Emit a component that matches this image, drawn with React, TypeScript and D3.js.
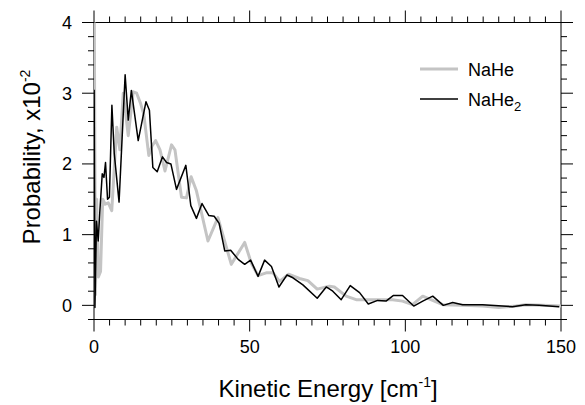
import React from "react";
import * as d3 from "d3";

// NaHe (gray) series
const naheX = [0.1, 0.45, 0.85, 1.4, 2.1, 2.8, 3.6, 4.6, 5.7, 7.3, 8.3, 9.4, 11.0, 12.6, 13.7, 15.0, 16.0, 17.6, 18.6, 19.8, 21.2, 22.8, 24.9, 26.0, 28.1, 29.7, 31.2, 32.9, 36.6, 39.8, 44.1, 48.4, 50.5, 52.7, 55.3, 57.5, 59.6, 62.5, 66.0, 68.7, 71.7, 75.6, 77.2, 81.0, 84.2, 88.5, 92.2, 95.9, 99.1, 102.3, 105.6, 108.2, 112.0, 118.4, 124.8, 130.0, 135.5, 138.7, 144.0, 150.0];
const naheY = [4.1, 0.15, 1.5, 0.4, 0.48, 1.5, 1.43, 1.45, 1.34, 2.52, 2.2, 3.0, 2.4, 3.02, 3.0, 2.85, 2.7, 2.12, 2.25, 2.33, 2.2, 1.9, 2.27, 2.2, 1.53, 1.52, 1.82, 1.62, 0.91, 1.24, 0.58, 0.89, 0.6, 0.42, 0.46, 0.46, 0.34, 0.44, 0.38, 0.35, 0.23, 0.27, 0.26, 0.13, 0.08, 0.08, 0.08, 0.08, 0.06, 0.01, 0.13, 0.08, 0.01, 0.0, -0.01, -0.03, -0.01, 0.01, 0.0, -0.01];

// NaHe2 (black) series
const nahe2X = [0.05, 0.3, 0.8, 1.35, 1.85, 2.65, 3.2, 3.7, 4.35, 4.95, 5.75, 6.5, 8.05, 10.0, 11.0, 12.0, 14.2, 16.7, 17.8, 18.9, 20.3, 22.0, 23.3, 24.7, 26.5, 29.5, 31.1, 32.9, 34.7, 36.9, 38.6, 40.2, 42.0, 43.9, 46.3, 48.4, 50.3, 52.7, 54.8, 57.0, 59.4, 62.0, 63.9, 67.1, 71.7, 74.6, 76.7, 79.4, 82.3, 85.3, 88.1, 91.1, 93.8, 96.2, 99.1, 102.7, 105.6, 108.8, 112.2, 115.2, 118.4, 124.8, 131.2, 134.4, 138.7, 143.0, 149.4];
const nahe2Y = [3.05, -0.03, 1.19, 0.91, 1.31, 1.86, 1.81, 2.02, 1.5, 1.53, 2.83, 2.15, 1.46, 3.26, 2.62, 3.04, 2.33, 2.88, 2.76, 1.95, 1.89, 2.1, 2.02, 2.0, 1.64, 1.98, 1.41, 1.23, 1.44, 1.27, 1.26, 1.16, 0.77, 0.78, 0.65, 0.58, 0.64, 0.41, 0.64, 0.55, 0.26, 0.43, 0.39, 0.29, 0.1, 0.26, 0.2, 0.08, 0.28, 0.18, 0.02, 0.07, 0.06, 0.14, 0.14, -0.01, 0.06, 0.13, 0.0, 0.04, 0.01, 0.01, -0.01, -0.02, 0.01, 0.0, -0.02];

const xTicks = [0, 50, 100, 150];
const yTicks = [0, 1, 2, 3, 4];

const FONT = "'Liberation Sans', Arial, Helvetica, sans-serif";

export default function App() {
  const W = 585, H = 405;
  const x = d3.scaleLinear().domain([0, 150]).range([94, 561]);
  const y = d3.scaleLinear().domain([-0.2, 4]).range([319.5, 22.5]);
  const [x0, x1] = x.range();
  const [yb, yt] = y.range();

  const line = d3.line<[number, number]>().x(d => x(d[0])).y(d => y(d[1]));
  const naheD = line(naheX.map((v, i) => [v, naheY[i]] as [number, number])) || "";
  const nahe2D = line(nahe2X.map((v, i) => [v, nahe2Y[i]] as [number, number])) || "";

  const xMinor = d3.range(0, 150.01, 5);
  const yMinor = d3.range(-0.2, 4.001, 0.2).map(v => Math.round(v * 10) / 10);
  const isMajorY = (v: number) => Math.abs(v - Math.round(v)) < 1e-6;
  const isMajorX = (v: number) => v % 50 === 0;

  const ticks: JSX.Element[] = [];
  xMinor.forEach((v, i) => {
    const L = isMajorX(v) ? 12 : 6;
    const px = x(v);
    ticks.push(<line key={"xb" + i} x1={px} x2={px} y1={yb} y2={yb + L} stroke="#000" strokeWidth={1} />);
    ticks.push(<line key={"xt" + i} x1={px} x2={px} y1={yt} y2={yt - L} stroke="#000" strokeWidth={1} />);
  });
  yMinor.forEach((v, i) => {
    const L = isMajorY(v) ? 12 : 6;
    const py = y(v);
    ticks.push(<line key={"yl" + i} x1={x0} x2={x0 - L} y1={py} y2={py} stroke="#000" strokeWidth={1} />);
    ticks.push(<line key={"yr" + i} x1={x1} x2={x1 + L} y1={py} y2={py} stroke="#000" strokeWidth={1} />);
  });

  return (
    <svg width={W} height={H} style={{ position: "absolute", left: 0, top: 0, background: "#fff" }} fontFamily={FONT}>
      <defs>
        <clipPath id="plotclip">
          <rect x={x0} y={yt} width={x1 - x0} height={yb - yt} />
        </clipPath>
      </defs>
      <rect x={0} y={0} width={W} height={H} fill="#fff" />
      <rect x={x0} y={yt} width={x1 - x0} height={yb - yt} fill="none" stroke="#000" strokeWidth={1} />
      {ticks}
      {xTicks.map(v => (
        <text key={"xl" + v} x={x(v)} y={353} fontSize={18} textAnchor="middle" fill="#000">{v}</text>
      ))}
      {yTicks.map(v => (
        <text key={"yl" + v} x={72} y={y(v)} dy="0.36em" fontSize={18} textAnchor="end" fill="#000">{v}</text>
      ))}
      <g clipPath="url(#plotclip)">
        <path d={naheD} fill="none" stroke="#c4c4c4" strokeWidth={3} strokeLinejoin="round" />
        <path d={nahe2D} fill="none" stroke="#000" strokeWidth={1.5} strokeLinejoin="round" />
      </g>
      <line x1={420} x2={458} y1={69} y2={69} stroke="#c4c4c4" strokeWidth={3} />
      <text x={468} y={75.5} fontSize={18} fill="#000">NaHe</text>
      <line x1={420} x2={458} y1={99} y2={99} stroke="#000" strokeWidth={1.5} />
      <text x={468} y={105.5} fontSize={18} fill="#000">NaHe<tspan fontSize={13} dy={5}>2</tspan></text>
      <text x={328} y={397} fontSize={24} textAnchor="middle" fill="#000">
        Kinetic Energy [cm<tspan fontSize={14} dy={-10}>-1</tspan><tspan dy={10}>]</tspan>
      </text>
      <text transform="translate(40,157) rotate(-90)" fontSize={24} textAnchor="middle" fill="#000">
        Probability, x10<tspan fontSize={14} dy={-10}>-2</tspan>
      </text>
    </svg>
  );
}
